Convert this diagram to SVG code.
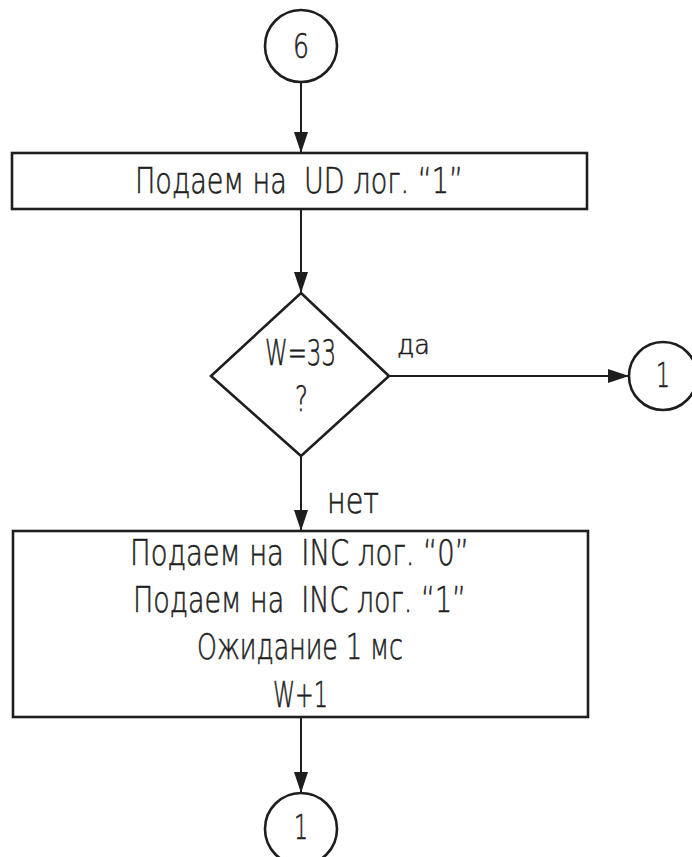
<svg xmlns="http://www.w3.org/2000/svg" width="692" height="857" viewBox="0 0 692 857">
<defs>
<style>
.shape{fill:#fff;stroke:#1e1e1e;stroke-width:2.6}
.conn{fill:none;stroke:#1e1e1e;stroke-width:2}
.t{font-family:"DejaVu Sans","Liberation Sans",sans-serif;font-weight:200;fill:#1e1e1e;stroke:#1e1e1e;stroke-width:0.6;font-size:36px;white-space:pre}
.d{font-size:34px}
</style>
<marker id="ah" markerUnits="userSpaceOnUse" markerWidth="22" markerHeight="16" refX="21" refY="7" orient="auto">
<path d="M0,0 L21,7 L0,14 Z" fill="#1e1e1e"/>
</marker>
</defs>
<rect width="692" height="857" fill="#fff"/>
<g id="connectors">
<line class="conn" x1="301" y1="82" x2="301" y2="153" marker-end="url(#ah)"/>
<line class="conn" x1="301" y1="209" x2="301" y2="293" marker-end="url(#ah)"/>
<line class="conn" x1="389" y1="376" x2="629" y2="376" marker-end="url(#ah)"/>
<line class="conn" x1="301" y1="456" x2="301" y2="531" marker-end="url(#ah)"/>
<line class="conn" x1="301" y1="717" x2="301" y2="793" marker-end="url(#ah)"/>
<text class="t" x="397" y="354" style="font-size:27px" textLength="33" lengthAdjust="spacingAndGlyphs">да</text>
<text class="t" x="327" y="513" textLength="52" lengthAdjust="spacingAndGlyphs">нет</text>
</g>
<g id="start">
<circle class="shape" cx="301" cy="46" r="36"/>
<text class="t d" x="293" y="58" textLength="16" lengthAdjust="spacingAndGlyphs">6</text>
</g>
<g id="setUD">
<rect class="shape" x="12" y="153" width="575" height="56"/>
<text class="t" x="135" y="193" textLength="328" lengthAdjust="spacingAndGlyphs">Подаем на  UD лог. “1”</text>
</g>
<g id="decision">
<polygon class="shape" points="301,293 389,376 301,456 211,376"/>
<text class="t" x="265" y="365" textLength="71" lengthAdjust="spacingAndGlyphs">W=33</text>
<text class="t" x="295" y="411" textLength="13" lengthAdjust="spacingAndGlyphs">?</text>
</g>
<g id="exitYes">
<circle class="shape" cx="663" cy="376" r="34"/>
<text class="t d" x="656" y="387" textLength="14" lengthAdjust="spacingAndGlyphs">1</text>
</g>
<g id="increment">
<rect class="shape" x="13" y="531" width="575" height="186"/>
<text class="t" x="130" y="565" textLength="339" lengthAdjust="spacingAndGlyphs">Подаем на  INC лог. “0”</text>
<text class="t" x="133" y="612" textLength="333" lengthAdjust="spacingAndGlyphs">Подаем на  INC лог. “1”</text>
<text class="t" x="197" y="659" textLength="206" lengthAdjust="spacingAndGlyphs">Ожидание 1 мс</text>
<text class="t" x="273" y="707" textLength="55" lengthAdjust="spacingAndGlyphs">W+1</text>
</g>
<g id="exitNo">
<circle class="shape" cx="301" cy="829" r="36"/>
<text class="t d" x="294" y="839" textLength="14" lengthAdjust="spacingAndGlyphs">1</text>
</g>
</svg>
